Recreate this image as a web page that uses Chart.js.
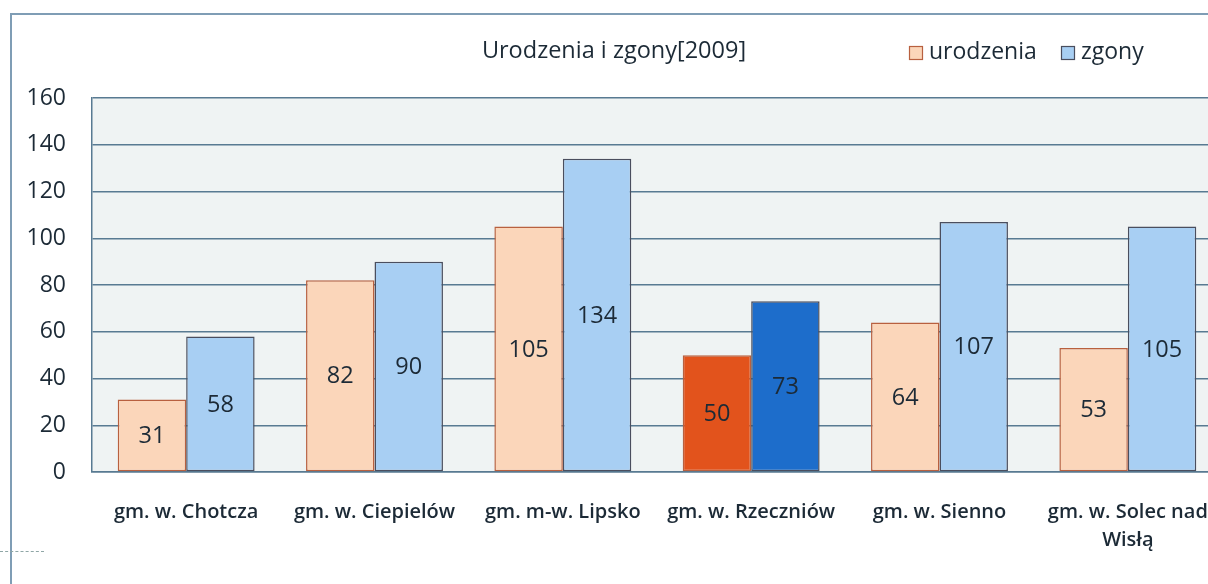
<!DOCTYPE html>
<html><head><meta charset="utf-8">
<script src="https://cdn.jsdelivr.net/npm/chart.js@4.4.1/dist/chart.umd.min.js"></script>
<style>
html,body{margin:0;padding:0;background:#fff;overflow:hidden;width:1208px;height:584px;}
#frame{position:absolute;left:10px;top:13px;width:1300px;height:700px;border:2px solid #7f9db5;box-sizing:border-box;}
#wrap{position:absolute;left:0;top:0;width:1230px;height:584px;}
#tick{position:absolute;left:0;top:551px;width:44px;height:0;border-top:1px dashed #8fa6a6;}
</style></head><body>
<div id="frame"></div><div id="tick"></div>
<div id="wrap"><canvas id="c" width="1230" height="584"></canvas></div>
<script>
const categories = [
  'gm. w. Chotcza',
  'gm. w. Ciepielów',
  'gm. m-w. Lipsko',
  'gm. w. Rzeczniów',
  'gm. w. Sienno',
  ['gm. w. Solec nad', 'Wisłą']
];
const urodzenia = [31, 82, 105, 50, 64, 53];
const zgony = [58, 90, 134, 73, 107, 105];
const seriesNames = ['urodzenia', 'zgony'];
const chartTitle = 'Urodzenia i zgony[2009]';
const yTicks = [0, 20, 40, 60, 80, 100, 120, 140, 160];

const highlightIndex = 3;
const FONT = '"Open Sans", "Noto Sans", sans-serif';
const colors = {
  uro: '#fbd6ba', uroBorder: '#b8603f', uroHi: '#e2531c',
  zg: '#a8cff3', zgBorder: '#4a4e5e', zgHi: '#1d6dcb',
  grid: '#587a92', plotBg: '#eff3f3', text: '#1c2a36'
};

const bgPlugin = {
  id: 'bg',
  beforeDraw(chart) {
    const {ctx, chartArea: a} = chart;
    ctx.save();
    ctx.fillStyle = colors.plotBg;
    ctx.fillRect(a.left, a.top, a.right - a.left, a.bottom - a.top);
    ctx.restore();
  }
};

const labelPlugin = {
  id: 'vals',
  afterDatasetsDraw(chart) {
    const ctx = chart.ctx;
    ctx.save();
    ctx.font = '23.5px ' + FONT;
    ctx.fillStyle = colors.text;
    ctx.textAlign = 'center';
    ctx.textBaseline = 'middle';
    chart.data.datasets.forEach((ds, di) => {
      chart.getDatasetMeta(di).data.forEach((el, i) => {
        ctx.fillText(String(ds.data[i]), el.x, (el.y + el.base) / 2 + 1);
      });
    });
    ctx.restore();
  }
};

const headPlugin = {
  id: 'head',
  afterDraw(chart) {
    const ctx = chart.ctx;
    ctx.save();
    ctx.fillStyle = colors.text;
    ctx.textBaseline = 'middle';
    ctx.font = '23.5px ' + FONT;
    ctx.textAlign = 'center';
    ctx.fillText(chartTitle, 614, 51);
    ctx.textAlign = 'left';
    ctx.font = '23px ' + FONT;
    const items = [
      {x: 909, fill: colors.uro, stroke: colors.uroBorder, text: seriesNames[0]},
      {x: 1061, fill: colors.zg, stroke: colors.zgBorder, text: seriesNames[1]}
    ];
    items.forEach(it => {
      ctx.fillStyle = it.fill;
      ctx.fillRect(it.x, 46, 14, 14);
      ctx.strokeStyle = it.stroke;
      ctx.lineWidth = 1.2;
      ctx.strokeRect(it.x + 0.5, 46.5, 13, 13);
      ctx.fillStyle = colors.text;
      ctx.fillText(it.text, it.x + 20, 52);
    });
    ctx.restore();
  }
};

new Chart(document.getElementById('c'), {
  type: 'bar',
  data: {
    labels: categories,
    datasets: [
      {
        label: seriesNames[0],
        data: urodzenia,
        backgroundColor: c => c.dataIndex === highlightIndex ? colors.uroHi : colors.uro,
        borderColor: colors.uroBorder,
        borderWidth: 1.5,
        borderSkipped: false,
        barPercentage: 1,
        categoryPercentage: 0.727
      },
      {
        label: seriesNames[1],
        data: zgony,
        backgroundColor: c => c.dataIndex === highlightIndex ? colors.zgHi : colors.zg,
        borderColor: colors.zgBorder,
        borderWidth: 1.5,
        borderSkipped: false,
        barPercentage: 1,
        categoryPercentage: 0.727
      }
    ]
  },
  options: {
    responsive: false,
    animation: false,
    devicePixelRatio: 1,
    layout: {padding: {left: 0, top: 98, right: 8, bottom: 0}},
    plugins: {legend: {display: false}, title: {display: false}, tooltip: {enabled: false}},
    scales: {
      x: {
        grid: {display: false, drawTicks: false},
        border: {display: true, color: colors.grid, width: 1.5},
        ticks: {
          font: {family: FONT, size: 20, weight: '600', lineHeight: 1.4},
          color: colors.text,
          padding: 26,
          maxRotation: 0,
          autoSkip: false
        },
        afterFit(s) { s.height = 112; s.paddingLeft = 0; s.paddingRight = 0; }
      },
      y: {
        min: yTicks[0],
        max: yTicks[yTicks.length - 1],
        afterBuildTicks(s) { s.ticks = yTicks.map(v => ({value: v})); },
        grid: {color: colors.grid, lineWidth: 1.5, drawTicks: false},
        border: {display: true, color: colors.grid, width: 1.5},
        ticks: {
          font: {family: FONT, size: 23},
          color: colors.text,
          padding: 26
        },
        afterFit(s) { s.width = 92; }
      }
    }
  },
  plugins: [bgPlugin, labelPlugin, headPlugin]
});
</script>
</body></html>
